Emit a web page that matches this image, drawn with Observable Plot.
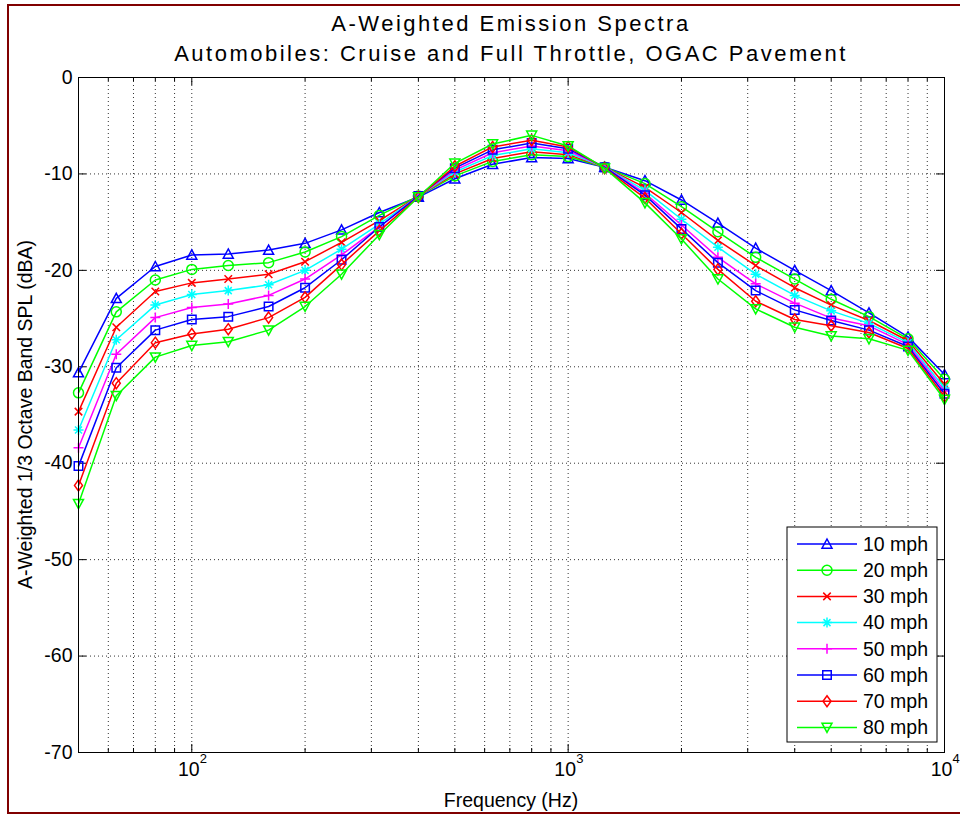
<!DOCTYPE html>
<html><head><meta charset="utf-8">
<script src="https://cdn.jsdelivr.net/npm/d3@7"></script>
<script src="https://cdn.jsdelivr.net/npm/@observablehq/plot@0.6"></script>
<style>html,body{margin:0;padding:0;background:#fff;overflow:hidden}</style>
</head><body><div id="chart"></div>
<script>
// ---- data ----
const frequencies = [50,63,80,100,125,160,200,250,315,400,500,630,800,1000,1250,1600,2000,2500,3150,4000,5000,6300,8000,10000];
const mph10 = [-30.6,-22.9,-19.6,-18.4,-18.3,-17.9,-17.2,-15.8,-14.0,-12.4,-10.5,-9.0,-8.3,-8.4,-9.3,-10.7,-12.7,-15.1,-17.7,-20.0,-22.1,-24.4,-26.9,-30.8];
const mph20 = [-32.7,-24.3,-21.0,-19.9,-19.5,-19.2,-18.1,-16.5,-14.3,-12.3,-10.2,-8.7,-8.0,-8.2,-9.3,-11.0,-13.4,-16.0,-18.65,-20.9,-23.0,-24.8,-27.1,-31.3];
const mph30 = [-34.65,-25.9,-22.2,-21.3,-20.9,-20.4,-19.1,-17.1,-14.85,-12.3,-10.0,-8.4,-7.7,-8.0,-9.3,-11.4,-14.0,-16.9,-19.5,-21.8,-23.6,-25.2,-27.3,-31.8];
const mph40 = [-36.55,-27.2,-23.6,-22.5,-22.1,-21.5,-20.0,-17.8,-15.2,-12.3,-9.8,-8.1,-7.4,-7.8,-9.3,-11.7,-14.7,-17.6,-20.4,-22.6,-24.2,-25.5,-27.5,-32.2];
const mph50 = [-38.4,-28.7,-24.9,-23.85,-23.5,-22.6,-20.9,-18.4,-15.5,-12.3,-9.6,-7.8,-7.1,-7.6,-9.3,-12.0,-15.3,-18.65,-21.4,-23.4,-24.95,-25.75,-27.7,-32.5];
const mph60 = [-40.3,-30.1,-26.2,-25.1,-24.8,-23.75,-21.8,-18.9,-15.5,-12.3,-9.4,-7.5,-6.8,-7.4,-9.3,-12.2,-15.7,-19.2,-22.1,-24.1,-25.2,-26.2,-27.9,-32.8];
const mph70 = [-42.3,-31.7,-27.5,-26.6,-26.1,-24.9,-22.8,-19.4,-15.9,-12.4,-9.2,-7.2,-6.5,-7.2,-9.4,-12.5,-16.2,-19.9,-23.2,-25.1,-25.75,-26.45,-28.1,-33.1];
const mph80 = [-44.2,-33.0,-29.0,-27.8,-27.4,-26.2,-23.75,-20.4,-16.3,-12.4,-8.9,-6.9,-6.0,-7.1,-9.4,-13.0,-16.75,-20.9,-24.0,-25.9,-26.8,-27.1,-28.3,-33.4];
const seriesValues = [mph10, mph20, mph30, mph40, mph50, mph60, mph70, mph80];
const seriesLabels = ["10 mph","20 mph","30 mph","40 mph","50 mph","60 mph","70 mph","80 mph"];
const seriesColors = ["#0000ff","#00ff00","#ff0000","#00ffff","#ff00ff","#0000ff","#ff0000","#00ff00"];
const seriesMarkers = ["triangleUp","circle","cross","asterisk","plus","square","diamond","triangleDown"];
const yTicks = [0,-10,-20,-30,-40,-50,-60,-70];
const yGrid = [-10,-20,-30,-40,-50,-60];
const xMajorTicks = [100,1000,10000];
const xExponents = ["2","3","4"];
const xMinorTicks = [60,70,80,90,200,300,400,500,600,700,800,900,2000,3000,4000,5000,6000,7000,8000,9000];
const xGrid = [60,70,80,90,100,200,300,400,500,600,700,800,900,1000,2000,3000,4000,5000,6000,7000,8000,9000];
const titleLines = ["A-Weighted Emission Spectra","Automobiles: Cruise and Full Throttle, OGAC Pavement"];
const xLabel = "Frequency (Hz)";
const yLabel = "A-Weighted 1/3 Octave Band SPL (dBA)";

// ---- marker symbols (MATLAB-like, open) ----
function poly(ctx, pts) { ctx.moveTo(pts[0][0], pts[0][1]); for (let i = 1; i < pts.length; i++) ctx.lineTo(pts[i][0], pts[i][1]); ctx.closePath(); }
function seg(ctx, x1, y1, x2, y2) { ctx.moveTo(x1, y1); ctx.lineTo(x2, y2); }
const rad = (size) => Math.sqrt(size / Math.PI);
const markerSymbols = {
  triangleUp: {draw(c, s) { const r = rad(s); poly(c, [[0, -r], [r, r * 0.85], [-r, r * 0.85]]); }},
  triangleDown: {draw(c, s) { const r = rad(s); poly(c, [[0, r], [r, -r * 0.85], [-r, -r * 0.85]]); }},
  circle: {draw(c, s) { const r = rad(s); c.moveTo(r, 0); c.arc(0, 0, r, 0, 2 * Math.PI); }},
  cross: {draw(c, s) { const r = rad(s) * 0.75; seg(c, -r, -r, r, r); seg(c, -r, r, r, -r); }},
  asterisk: {draw(c, s) { const r = rad(s); const d = r * 0.7; seg(c, -r, 0, r, 0); seg(c, 0, -r, 0, r); seg(c, -d, -d, d, d); seg(c, -d, d, d, -d); }},
  plus: {draw(c, s) { const r = rad(s); seg(c, -r, 0, r, 0); seg(c, 0, -r, 0, r); }},
  square: {draw(c, s) { const r = rad(s) * 0.85; poly(c, [[-r, -r], [r, -r], [r, r], [-r, r]]); }},
  diamond: {draw(c, s) { const r = rad(s); poly(c, [[0, -r * 1.1], [r * 0.8, 0], [0, r * 1.1], [-r * 0.8, 0]]); }}
};

// ---- layout ----
const W = 960, H = 815, mT = 77, mB = 63, mL = 78, mR = 16;
const innerW = W - mL - mR, innerH = H - mT - mB;
const FONT = "'Liberation Sans', Arial, Helvetica, sans-serif";

const seriesMarks = [];
seriesValues.forEach((vals, k) => {
  const rows = frequencies.map((f, i) => ({f, v: vals[i]}));
  seriesMarks.push(Plot.line(rows, {x: "f", y: "v", stroke: seriesColors[k], strokeWidth: 1.5}));
  seriesMarks.push(Plot.dot(rows, {x: "f", y: "v", stroke: seriesColors[k], fill: "none", strokeWidth: 1.5, r: 5, symbol: markerSymbols[seriesMarkers[k]]}));
});

const chart = Plot.plot({
  width: W, height: H,
  marginTop: mT, marginBottom: mB, marginLeft: mL, marginRight: mR,
  style: {fontFamily: FONT, background: "white", overflow: "visible"},
  x: {type: "log", domain: [50, 10000], axis: null},
  y: {domain: [-70, 0], axis: null},
  marks: [
    Plot.ruleX(xGrid, {x: d => d, stroke: "#333", strokeDasharray: "1,3", strokeWidth: 1}),
    Plot.ruleY(yGrid, {y: d => d, stroke: "#333", strokeDasharray: "1,3", strokeWidth: 1}),
    Plot.tickX(xMajorTicks, {x: d => d, insetTop: innerH - 8, stroke: "#000"}),
    Plot.tickX(xMajorTicks, {x: d => d, insetBottom: innerH - 8, stroke: "#000"}),
    Plot.tickX(xMinorTicks, {x: d => d, insetTop: innerH - 4, stroke: "#000"}),
    Plot.tickX(xMinorTicks, {x: d => d, insetBottom: innerH - 4, stroke: "#000"}),
    Plot.tickY(yTicks, {y: d => d, insetRight: innerW - 8, stroke: "#000"}),
    Plot.tickY(yTicks, {y: d => d, insetLeft: innerW - 8, stroke: "#000"}),
    ...seriesMarks,
    Plot.frame({stroke: "#000", strokeWidth: 1}),
    Plot.axisY({ticks: yTicks, tickSize: 0, tickPadding: 6, tickFormat: d => String(d), fontSize: 19.5, label: null}),
    Plot.text(xMajorTicks, {x: d => d, frameAnchor: "bottom", text: () => "10", dy: 23, dx: -3, fontSize: 19.5, fill: "#000"}),
    Plot.text(xMajorTicks, {x: d => d, frameAnchor: "bottom", text: (d, i) => xExponents[i], dy: 10, dx: 8, textAnchor: "start", fontSize: 13, fill: "#000"})
  ]
});
document.getElementById("chart").appendChild(chart);

const svg = d3.select(chart);
// figure border
svg.append("rect").attr("x", 8).attr("y", 5).attr("width", 960).attr("height", 808)
  .attr("fill", "none").attr("stroke", "#800000").attr("stroke-width", 2);
// titles
titleLines.forEach((t, i) => {
  svg.append("text").attr("x", (mL + W - mR) / 2).attr("y", 31 + i * 30)
    .attr("text-anchor", "middle").attr("font-family", FONT).attr("font-size", 22)
    .attr("letter-spacing", "2.5px").attr("fill", "#000").text(t);
});
// axis labels
svg.append("text").attr("x", (mL + W - mR) / 2).attr("y", 807).attr("text-anchor", "middle")
  .attr("font-family", FONT).attr("font-size", 19.5).attr("fill", "#000").text(xLabel);
svg.append("text").attr("transform", `translate(25,${mT + innerH / 2 + 0}) rotate(-90)`).attr("dy", "0.35em")
  .attr("text-anchor", "middle").attr("font-family", FONT).attr("font-size", 19.5).attr("fill", "#000").text(yLabel);
// legend
const lg = svg.append("g");
lg.append("rect").attr("x", 787).attr("y", 527).attr("width", 150).attr("height", 215)
  .attr("fill", "white").attr("stroke", "#000").attr("stroke-width", 1);
seriesLabels.forEach((lab, i) => {
  const cy = 544 + i * 26.2;
  lg.append("line").attr("x1", 797).attr("x2", 857).attr("y1", cy).attr("y2", cy)
    .attr("stroke", seriesColors[i]).attr("stroke-width", 1.5);
  const p = d3.path();
  markerSymbols[seriesMarkers[i]].draw(p, 25 * Math.PI);
  lg.append("path").attr("transform", `translate(827,${cy})`).attr("d", p.toString())
    .attr("fill", "none").attr("stroke", seriesColors[i]).attr("stroke-width", 1.5);
  lg.append("text").attr("x", 863).attr("y", cy).attr("dy", "0.35em").attr("text-anchor", "start")
    .attr("font-family", FONT).attr("font-size", 19.5).attr("fill", "#000").text(lab);
});
</script>
</body></html>
